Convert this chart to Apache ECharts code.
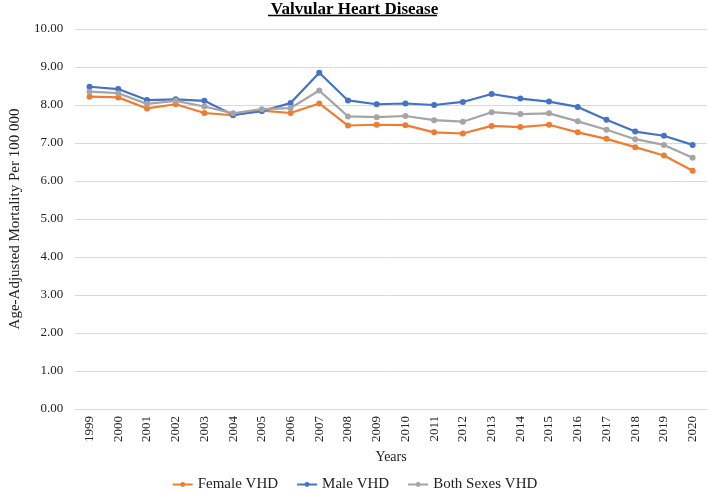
<!DOCTYPE html>
<html>
<head>
<meta charset="utf-8">
<script src="https://cdn.jsdelivr.net/npm/echarts@6/dist/echarts.min.js"></script>
<style>
html,body{margin:0;padding:0;background:#fff;}
#chart{width:709px;height:492px;}
</style>
</head>
<body>
<div id="chart"></div>
<script>
var years = ['1999','2000','2001','2002','2003','2004','2005','2006','2007','2008','2009','2010','2011','2012','2013','2014','2015','2016','2017','2018','2019','2020'];
var femaleVHD = [8.22,8.20,7.91,8.02,7.79,7.73,7.85,7.79,8.04,7.46,7.48,7.47,7.28,7.25,7.45,7.42,7.48,7.28,7.11,6.89,6.67,6.27];
var maleVHD   = [8.48,8.42,8.13,8.15,8.11,7.74,7.84,8.05,8.85,8.12,8.02,8.04,8.00,8.08,8.29,8.17,8.09,7.95,7.61,7.30,7.19,6.95];
var bothVHD   = [8.35,8.31,8.03,8.11,7.96,7.78,7.89,7.92,8.38,7.70,7.68,7.71,7.60,7.56,7.81,7.76,7.78,7.57,7.35,7.10,6.95,6.61];
var seriesNames = ['Female VHD','Male VHD','Both Sexes VHD'];
var yTicks = {min:0, max:10, interval:1};

var FONT = '"Liberation Serif","Times New Roman",serif';
var colors = ['#ED7D31','#4472C4','#A5A5A5'];
var chart = echarts.init(document.getElementById('chart'));
function mk(name, data, color){
  return {
    name:name, type:'line', data:data,
    symbol:'circle', symbolSize:6,
    lineStyle:{width:2.2,color:color},
    itemStyle:{color:color},
    emphasis:{disabled:true}
  };
}
chart.setOption({
  animation:false,
  color:colors,
  title:{
    text:'Valvular Heart Disease',
    left:'center', top:1, padding:0,
    textStyle:{fontFamily:FONT,fontSize:17,fontWeight:'bold',color:'#000',lineHeight:17}
  },
  graphic:[{type:'line',shape:{x1:268,y1:15.5,x2:437,y2:15.5},style:{stroke:'#000',lineWidth:1.3}}],
  legend:{
    bottom:0, left:'center', padding:0,
    itemWidth:20, itemHeight:6, itemGap:18, itemTextGap:2,
    textStyle:{fontFamily:FONT,fontSize:15,color:'#222'},
    data:seriesNames
  },
  grid:{left:59,right:2,top:29,bottom:83,containLabel:false},
  xAxis:{
    type:'category', data:years, boundaryGap:true,
    name:'Years', nameLocation:'middle', nameGap:39,
    nameTextStyle:{fontFamily:FONT,fontSize:14,color:'#222'},
    axisLine:{show:true,lineStyle:{color:'#D9D9D9',width:1}},
    axisTick:{show:false},
    axisLabel:{rotate:90,margin:7,fontFamily:FONT,fontSize:13,color:'#222'}
  },
  yAxis:{
    type:'value', min:yTicks.min, max:yTicks.max, interval:yTicks.interval,
    name:'Age-Adjusted Mortality Per 100 000', nameLocation:'middle', nameGap:43,
    nameTextStyle:{fontFamily:FONT,fontSize:15,color:'#222'},
    axisLine:{show:false}, axisTick:{show:false},
    splitLine:{lineStyle:{color:'#D9D9D9',width:1}},
    axisLabel:{margin:12,fontFamily:FONT,fontSize:13,color:'#222',formatter:function(v){return v.toFixed(2);}}
  },
  series:[mk(seriesNames[0],femaleVHD,colors[0]),mk(seriesNames[1],maleVHD,colors[1]),mk(seriesNames[2],bothVHD,colors[2])]
});
</script>
</body>
</html>
